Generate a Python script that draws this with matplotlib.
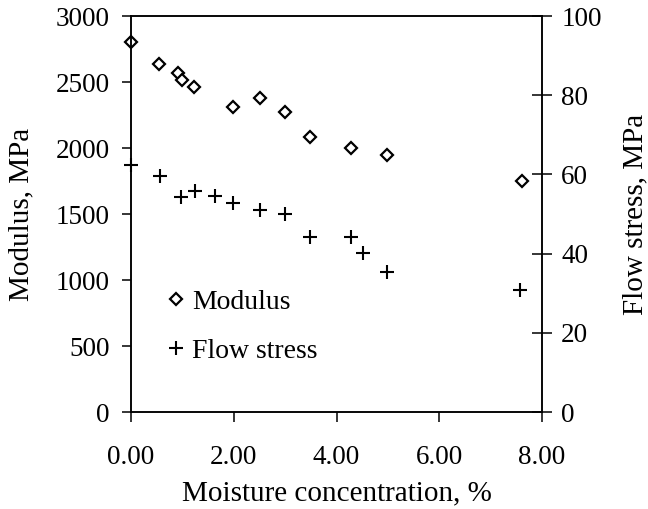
import numpy as np
import matplotlib
matplotlib.use("Agg")
import matplotlib.pyplot as plt

plt.rcParams['font.family'] = ['Liberation Serif', 'DejaVu Serif']

# moisture concentration (%) and modulus (MPa)
mod_x = [0.0, 0.55, 0.91, 1.0, 1.23, 1.98, 2.52, 3.0, 3.48, 4.29, 4.99, 7.61]
modulus = [2805, 2639, 2571, 2513, 2460, 2308, 2376, 2270, 2086, 2002, 1945, 1750]

# moisture concentration (%) and flow stress (MPa)
fs_x = [0.0, 0.56, 0.97, 1.24, 1.64, 1.99, 2.52, 3.0, 3.48, 4.29, 4.52, 4.99, 7.57]
flow_stress = [62.4, 59.6, 54.4, 55.9, 54.6, 52.9, 51.0, 49.9, 44.1, 44.1, 40.1, 35.4, 30.8]

xticks = [0, 2, 4, 6, 8]

fig = plt.figure(figsize=(6.48, 5.09), dpi=100)
ax = fig.add_axes([131 / 648, 1 - 412 / 509, 411 / 648, 396 / 509])
ax2 = ax.twinx()

h1, = ax.plot(mod_x, modulus, linestyle='none', marker='D', ms=6.2,
              mfc='white', mec='black', mew=1.6, clip_on=False, label='Modulus')
h2, = ax2.plot(fs_x, flow_stress, linestyle='none', marker='+', ms=9.5,
               mec='black', mew=1.5, clip_on=False, label='Flow stress')

ax.set_xlim(0, 8)
ax.set_ylim(0, 3000)
ax2.set_ylim(0, 100)
ax.set_xticks(xticks)
ax.set_xticklabels(['{:.2f}'.format(v) for v in xticks])
ax.set_yticks(np.arange(0, 3001, 500))
ax2.set_yticks(np.arange(0, 101, 20))

for a in (ax, ax2):
    for s in a.spines.values():
        s.set_linewidth(1.1)

ax.tick_params(axis='y', direction='out', length=6.5, width=1.1, pad=9, labelsize=19.5)
ax.tick_params(axis='x', direction='out', length=7, width=1.1, pad=17, labelsize=19.5)
ax2.tick_params(axis='y', direction='inout', length=13.7, width=1.1, pad=7, labelsize=19.5)

ax.set_xlabel('Moisture concentration, %', fontsize=21, labelpad=7)
ax.set_ylabel('Modulus, MPa', fontsize=21, labelpad=15)
ax2.set_ylabel('Flow stress, MPa', fontsize=21, labelpad=15)

ax2.legend(handles=[h1, h2], loc='upper left', bbox_to_anchor=(0.055, 0.345),
           frameon=False, fontsize=20, handlelength=0.6, handletextpad=0.3,
           labelspacing=0.85, borderpad=0)

fig.savefig('out.png', dpi=100)
